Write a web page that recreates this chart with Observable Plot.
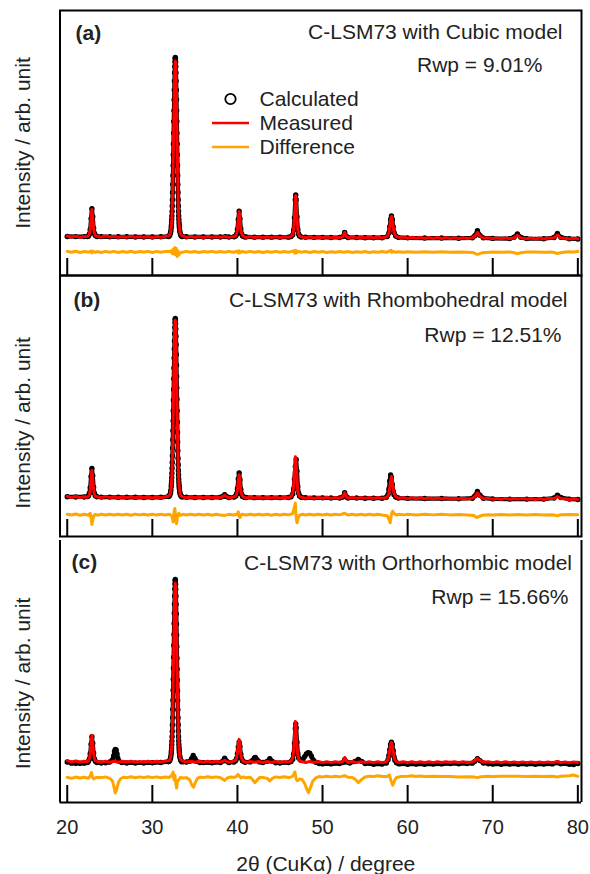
<!DOCTYPE html>
<html><head><meta charset="utf-8">
<script src="https://cdn.jsdelivr.net/npm/d3@7"></script>
<script src="https://cdn.jsdelivr.net/npm/@observablehq/plot@0.6"></script>
<style>
body{margin:0;background:#fff;}
#chart{position:relative;width:590px;height:874px;font-family:"Liberation Sans",Arial,sans-serif;}
#chart svg{overflow:visible;}
#chart .panel{position:absolute;left:0;}
#legend{position:absolute;left:0;top:0;pointer-events:none;}
</style></head><body><div id="chart"></div>
<script>
// ---------- text ----------
const panelLabels = ["(a)", "(b)", "(c)"];
const panelTitles = ["C-LSM73 with Cubic model", "C-LSM73 with Rhombohedral model", "C-LSM73 with Orthorhombic model"];
const rwpTexts = ["Rwp = 9.01%", "Rwp = 12.51%", "Rwp = 15.66%"];
const legendLabels = ["Calculated", "Measured", "Difference"];
const yTitle = "Intensity / arb. unit";
const xTitle = "2\u03B8 (CuK\u03B1) / degree";
const xTicks = [20, 30, 40, 50, 60, 70, 80];

// ---------- panel (a) cubic: [2theta, intensity] ----------
const calcA = [[20,0.6],[21,0.5],[22,0.5],[22.4,0.6],[22.5,0.9],[22.6,1.8],[22.7,4.5],[22.8,10.5],[22.9,16],[23.0,11.5],[23.1,5.2],[23.2,2.2],[23.3,1.1],[23.5,0.6],[24,0.5],[25,0.4],[26,0.4],[27,0.4],[28,0.3],[29,0.3],[30,0.3],[31,0.4],
[31.9,0.6],[31.98,0.9],[32.06,1.4],[32.14,2.6],[32.18,3.8],[32.22,5.6],[32.24,6.8],[32.26,8.2],[32.28,10],[32.30,12],[32.32,14.5],[32.34,17.5],[32.36,21],[32.38,25],[32.40,29.5],[32.42,34.5],[32.44,40],[32.46,46],[32.48,52],[32.50,58],[32.52,64.5],[32.54,70.5],[32.56,76.5],[32.58,82],[32.60,87],[32.62,91.5],[32.64,95],[32.66,97.6],[32.68,99.4],[32.70,100],[32.72,99.4],[32.74,97.6],[32.76,95],[32.78,91.5],[32.80,87],[32.82,82],[32.84,76.5],[32.86,70.5],[32.88,64.5],[32.90,58],[32.92,52],[32.94,46],[32.96,40],[32.98,34.5],[33.00,29.5],[33.02,25],[33.04,21],[33.06,17.5],[33.08,14.5],[33.10,12],[33.12,10],[33.14,8.2],[33.16,6.8],[33.18,5.6],[33.22,3.8],[33.26,2.6],[33.34,1.4],[33.42,0.9],[33.50,0.6],
[34,0.4],[35,0.3],[36,0.3],[37,0.3],[38,0.3],[38.6,0.5],[39,0.3],[39.6,0.4],[39.8,0.9],[39.9,1.8],[40.0,4.5],[40.1,10],[40.2,14.6],[40.3,10.5],[40.4,4.8],[40.5,2],[40.6,0.9],[40.8,0.4],[41,0.3],[42,0.2],[43,0.2],[44,0.2],[45,0.2],[46,0.2],[46.3,0.5],[46.5,1.6],[46.6,4],[46.7,11],[46.8,21],[46.85,23.6],[46.9,21],[47.0,11.5],[47.1,4.5],[47.2,1.8],[47.3,0.8],[47.5,0.3],[48,0.2],[49,0.1],[50,0.1],[51,0],[52,0],[52.4,0.5],[52.6,2.8],[52.8,0.6],[53,0],[54,0],[55,-0.1],[56,-0.1],[57,-0.1],[57.6,0.5],[57.8,2.5],[57.9,6],[58.0,10],[58.1,12],[58.2,10],[58.3,6],[58.4,2.8],[58.6,0.8],[58.9,0.1],[60,-0.2],[62,-0.3],[64,-0.3],[66,-0.4],[67.6,-0.2],[67.9,1],[68.2,3.8],[68.5,1.2],[68.9,-0.2],[70,-0.5],[72,-0.6],[72.5,0.2],[72.9,2],[73.3,0.1],[74,-0.6],[76,-0.7],[77.2,0],[77.6,2.2],[78.0,0.1],[79,-0.7],[80,-0.8]];
const measA = [[20,0.8],[20.5,0.3],[21,0.7],[21.5,0.2],[22,0.6],[22.4,0.5],[22.5,1.1],[22.6,2],[22.7,4.8],[22.8,10.8],[22.9,15.6],[23.0,11],[23.1,5],[23.2,2.4],[23.3,1],[23.5,0.7],[24,0.2],[24.5,0.8],[25,0.3],[25.5,0.7],[26,0.1],[26.5,0.6],[27,0.2],[27.5,0.7],[28,0.1],[28.5,0.5],[29,0.2],[29.5,0.6],[30,0],[30.5,0.6],[31,0.1],[31.5,0.7],
[31.9,0.9],[32.06,1.6],[32.14,2.8],[32.22,5.4],[32.26,8],[32.30,12],[32.34,17.5],[32.38,25.5],[32.42,34],[32.46,46],[32.50,57],[32.54,70],[32.58,81],[32.62,90],[32.66,96],[32.70,98],[32.74,96.5],[32.78,91],[32.82,82],[32.86,70.5],[32.90,58],[32.94,46],[32.98,35],[33.02,25],[33.06,17.5],[33.10,12],[33.14,8.2],[33.18,5.6],[33.26,2.8],[33.34,1.6],[33.50,0.9],
[34,0.1],[34.5,0.6],[35,0.2],[35.5,0.5],[36,0],[36.5,0.6],[37,0.1],[37.5,0.5],[38,0.1],[38.6,0.6],[39,0.1],[39.5,0.5],[39.8,1],[39.9,2],[40.0,4.6],[40.1,10.2],[40.2,14.4],[40.3,10.3],[40.4,4.6],[40.5,2.1],[40.6,1],[40.8,0.5],[41,0],[41.5,0.5],[42,0],[42.5,0.4],[43,-0.1],[43.5,0.4],[44,0],[44.5,0.5],[45,-0.1],[45.5,0.4],[46,0.1],[46.3,0.6],[46.5,1.8],[46.6,4.3],[46.7,11.5],[46.8,21.5],[46.85,23.3],[46.9,20.5],[47.0,11],[47.1,4.3],[47.2,1.8],[47.3,0.9],[47.5,0.4],[48,-0.1],[48.5,0.4],[49,-0.2],[49.5,0.3],[50,-0.1],[50.5,0.4],[51,-0.2],[51.5,0.3],[52,-0.1],[52.4,0.5],[52.6,2.8],[52.8,0.7],[53,-0.1],[53.5,0.4],[54,-0.2],[54.5,0.3],[55,-0.2],[55.5,0.3],[56,-0.3],[56.5,0.3],[57,-0.2],[57.6,0.6],[57.8,2.6],[57.9,6.2],[58.0,10.2],[58.1,11.7],[58.2,9.8],[58.3,5.8],[58.4,2.7],[58.6,0.9],[58.9,0.1],[59.5,0.2],[60,-0.4],[60.5,0.1],[61,-0.4],[61.5,0.1],[62,-0.5],[62.5,0],[63,-0.5],[63.5,0],[64,-0.5],[64.5,0],[65,-0.6],[65.5,-0.1],[66,-0.6],[66.5,-0.1],[67,-0.5],[67.6,-0.2],[67.9,0.7],[68.2,2.8],[68.5,0.8],[68.9,-0.3],[69.5,-0.2],[70,-0.7],[70.5,-0.2],[71,-0.7],[71.5,-0.2],[72,-0.7],[72.5,-0.1],[72.9,1.2],[73.3,-0.2],[74,-0.7],[74.5,-0.3],[75,-0.8],[75.5,-0.3],[76,-0.8],[76.5,-0.3],[77.2,-0.2],[77.6,1.4],[78.0,-0.2],[78.5,-0.4],[79,-0.8],[79.5,-0.4],[80,-0.7]];
const diffA = [[20,0.3],[20.5,-0.2],[21,0.4],[21.5,-0.3],[22,0.2],[22.5,-0.1],[22.8,0.5],[22.9,-0.5],[23.0,0.4],[23.3,-0.2],[23.5,0.2],[24,-0.3],[24.5,0.3],[25,-0.2],[25.5,0.3],[26,-0.3],[26.5,0.2],[27,-0.2],[27.5,0.4],[28,-0.3],[28.5,0.2],[29,-0.1],[29.5,0.3],[30,-0.3],[30.5,0.3],[31,-0.2],[31.5,0.3],[32,0.2],[32.2,0.6],[32.35,-1],[32.45,1.5],[32.55,-1.2],[32.65,2.5],[32.72,-1.5],[32.8,2],[32.9,-2.5],[33.0,0.8],[33.1,-1.8],[33.25,-0.6],[33.5,-0.2],[34,0.3],[34.5,-0.2],[35,0.2],[35.5,-0.3],[36,0.2],[36.5,-0.1],[37,0.3],[37.5,-0.2],[38,0.2],[38.5,-0.2],[39,0.3],[39.5,-0.2],[40,0.4],[40.1,-0.5],[40.2,0.6],[40.3,-0.4],[40.5,0.2],[41,-0.2],[41.5,0.3],[42,-0.2],[42.5,0.2],[43,-0.3],[43.5,0.2],[44,-0.2],[44.5,0.3],[45,-0.2],[45.5,0.2],[46,-0.2],[46.6,0.6],[46.75,-0.7],[46.85,0.9],[46.95,-0.5],[47.2,0.3],[47.5,-0.2],[48,0.2],[48.5,-0.3],[49,0.2],[49.5,-0.2],[50,0.2],[50.5,-0.3],[51,0.1],[51.5,-0.2],[52,0.2],[52.5,-0.2],[53,0.2],[53.5,-0.3],[54,0.1],[54.5,-0.2],[55,0.2],[55.5,-0.3],[56,0.1],[56.5,-0.2],[57,0.2],[57.5,-0.2],[57.9,0.5],[58.05,0.9],[58.15,-0.3],[58.3,0.3],[58.6,-0.2],[59,0.1],[59.5,-0.2],[60,0.1],[61,-0.2],[62,0.1],[63,-0.2],[64,0.1],[65,-0.2],[66,0],[67,-0.2],[67.7,-0.3],[68.1,-1.3],[68.4,-1.1],[68.8,-0.4],[69.5,-0.2],[70,0],[71,-0.2],[72,0],[72.5,-0.4],[72.9,-1],[73.3,-0.4],[74,-0.1],[75,0],[76,-0.2],[77,-0.1],[77.3,-0.5],[77.6,-0.9],[78,-0.4],[78.5,-0.1],[79,0.1],[79.5,0],[80,0.2]];

// ---------- panel (b) rhombohedral ----------
const calcB = [[20,0.7],[21,0.6],[22,0.6],[22.4,0.8],[22.5,1.3],[22.6,2.6],[22.7,5.8],[22.8,12],[22.9,16.5],[23.0,12.5],[23.1,6],[23.2,2.6],[23.3,1.3],[23.5,0.7],[24,0.5],[25,0.5],[26,0.4],[27,0.4],[28,0.4],[29,0.3],[30,0.3],[31,0.4],
[31.9,0.8],[31.98,1.1],[32.06,1.7],[32.14,3],[32.18,4.4],[32.22,6.4],[32.24,7.8],[32.26,9.4],[32.28,11.4],[32.30,13.8],[32.32,16.6],[32.34,19.8],[32.36,23.5],[32.38,27.8],[32.40,32.5],[32.42,37.5],[32.44,43],[32.46,48.6],[32.48,54.5],[32.50,60.5],[32.52,66.5],[32.54,72.5],[32.56,78],[32.58,83],[32.60,87.5],[32.62,91.5],[32.64,95],[32.66,97.6],[32.68,99.4],[32.70,100],[32.72,99.2],[32.74,97.2],[32.76,94.2],[32.78,90.2],[32.80,85.4],[32.82,80],[32.84,74],[32.86,67.8],[32.88,61.4],[32.90,55],[32.92,48.6],[32.94,42.4],[32.96,36.6],[32.98,31.2],[33.00,26.4],[33.02,22.2],[33.04,18.5],[33.06,15.4],[33.08,12.8],[33.10,10.6],[33.12,8.8],[33.14,7.3],[33.16,6.1],[33.18,5.1],[33.22,3.5],[33.26,2.4],[33.34,1.4],[33.42,0.9],[33.50,0.6],
[34,0.4],[35,0.3],[36,0.3],[37,0.3],[38,0.4],[38.3,0.9],[38.5,1.9],[38.7,0.8],[39,0.3],[39.6,0.5],[39.8,1.1],[39.9,2.2],[40.0,5.2],[40.1,10.6],[40.2,14],[40.3,10.2],[40.4,4.8],[40.5,2],[40.6,0.9],[40.8,0.4],[41,0.3],[42,0.2],[43,0.2],[44,0.2],[45,0.2],[46,0.3],[46.3,0.7],[46.5,2.2],[46.6,5],[46.7,10.5],[46.8,17.5],[46.9,21.5],[47.0,15],[47.1,6.5],[47.2,2.6],[47.3,1.1],[47.5,0.4],[48,0.2],[49,0.1],[50,0.1],[51,0],[52,0],[52.4,0.6],[52.6,3],[52.8,0.7],[53,0],[54,0],[55,-0.1],[56,-0.1],[57,-0.1],[57.5,0.4],[57.7,2],[57.8,5],[57.9,9.5],[58.0,12.8],[58.1,11.5],[58.2,7.5],[58.3,3.8],[58.4,1.8],[58.6,0.6],[58.9,0],[60,-0.2],[62,-0.3],[64,-0.3],[66,-0.4],[67.6,-0.1],[67.9,1.2],[68.2,3.6],[68.5,1.5],[68.9,-0.1],[70,-0.5],[72,-0.6],[74,-0.6],[76,-0.6],[77.2,0],[77.6,1.5],[78.0,0.3],[79,-0.6],[80,-0.8]];
const measB = [[20,0.9],[20.5,0.3],[21,0.8],[21.5,0.2],[22,0.7],[22.4,0.6],[22.5,1],[22.6,1.9],[22.7,4.5],[22.8,10.5],[22.9,15.3],[23.0,10.8],[23.1,4.6],[23.2,2],[23.3,1],[23.5,0.7],[24,0.2],[24.5,0.8],[25,0.2],[25.5,0.7],[26,0.1],[26.5,0.6],[27,0.2],[27.5,0.7],[28,0.1],[28.5,0.6],[29,0.1],[29.5,0.6],[30,0],[30.5,0.6],[31,0.1],[31.5,0.7],
[31.9,1],[32.06,1.8],[32.14,3],[32.22,6],[32.26,9],[32.30,13],[32.34,19],[32.38,27],[32.42,36],[32.46,47],[32.50,60],[32.54,73],[32.58,84],[32.62,93],[32.66,98.5],[32.70,99],[32.74,96],[32.78,88],[32.82,78],[32.86,66],[32.90,54],[32.94,42],[32.98,31],[33.02,22],[33.06,15.5],[33.10,10.5],[33.14,7.5],[33.18,5.2],[33.26,2.4],[33.34,1.4],[33.50,0.8],
[34,0.1],[34.5,0.6],[35,0.2],[35.5,0.6],[36,0.1],[36.5,0.6],[37,0.1],[37.5,0.5],[38,0.2],[38.3,0.9],[38.5,1.6],[38.7,0.8],[39,0.1],[39.5,0.6],[39.8,1],[39.9,2],[40.0,4.6],[40.1,9.8],[40.2,13],[40.3,9.4],[40.4,4.2],[40.5,1.9],[40.6,0.9],[40.8,0.5],[41,0],[41.5,0.5],[42,0],[42.5,0.5],[43,-0.1],[43.5,0.4],[44,0],[44.5,0.5],[45,-0.1],[45.5,0.4],[46,0.1],[46.3,0.8],[46.5,2.8],[46.6,7],[46.7,15.5],[46.8,23],[46.9,19.5],[47.0,10.5],[47.1,4],[47.2,1.7],[47.3,0.9],[47.5,0.4],[48,-0.1],[48.5,0.4],[49,-0.2],[49.5,0.3],[50,-0.1],[50.5,0.4],[51,-0.2],[51.5,0.3],[52,-0.1],[52.4,0.7],[52.6,3],[52.8,0.9],[53,-0.1],[53.5,0.4],[54,-0.2],[54.5,0.3],[55,-0.2],[55.5,0.3],[56,-0.3],[56.5,0.3],[57,-0.2],[57.5,0.3],[57.7,1.2],[57.8,3],[57.9,6],[58.0,9.5],[58.1,12],[58.2,9.8],[58.3,5.5],[58.4,2.4],[58.6,0.8],[58.9,0],[59.5,0.2],[60,-0.4],[60.5,0.1],[61,-0.4],[61.5,0.1],[62,-0.4],[62.5,0],[63,-0.5],[63.5,0],[64,-0.5],[64.5,0],[65,-0.5],[65.5,-0.1],[66,-0.6],[66.5,-0.1],[67,-0.5],[67.6,-0.2],[67.9,0.8],[68.2,2.8],[68.5,0.9],[68.9,-0.3],[69.5,-0.2],[70,-0.7],[70.5,-0.2],[71,-0.7],[71.5,-0.2],[72,-0.7],[72.5,-0.3],[73,-0.6],[73.5,-0.2],[74,-0.7],[74.5,-0.3],[75,-0.8],[75.5,-0.3],[76,-0.8],[76.5,-0.3],[77.2,-0.3],[77.6,0.8],[78,-0.3],[78.5,-0.4],[79,-0.8],[79.5,-0.4],[80,-0.7]];
const diffB = [[20,0.3],[20.5,-0.2],[21,0.4],[21.5,-0.3],[22,0.2],[22.5,-0.3],[22.7,0.8],[22.8,-1.5],[22.9,-5.5],[23.0,-3],[23.1,-0.8],[23.3,0.2],[23.6,-0.3],[24,0.3],[24.5,-0.2],[25,0.3],[25.5,-0.2],[26,0.3],[26.5,-0.2],[27,0.2],[27.5,-0.3],[28,0.3],[28.5,-0.1],[29,0.3],[29.5,-0.2],[30,0.2],[30.5,-0.2],[31,0.3],[31.5,-0.2],[32,0.3],[32.3,-0.8],[32.45,-4],[32.55,1.5],[32.65,3.5],[32.75,-2],[32.85,-5],[32.95,-1.5],[33.1,0.8],[33.3,-0.4],[33.6,0.2],[34,-0.2],[34.5,0.3],[35,-0.2],[35.5,0.3],[36,-0.2],[36.5,0.2],[37,-0.3],[37.5,0.2],[38,-0.2],[38.5,-0.4],[39,0.2],[39.5,-0.2],[40,0.3],[40.1,1.6],[40.2,-1],[40.3,-1.6],[40.5,0.2],[41,-0.2],[41.5,0.3],[42,-0.2],[42.5,0.3],[43,-0.2],[43.5,0.2],[44,-0.3],[44.5,0.2],[45,-0.2],[45.5,0.3],[46,-0.1],[46.5,0.6],[46.7,4.5],[46.8,6.5],[46.9,-1.5],[47.0,-4.5],[47.1,-2.5],[47.3,-0.3],[47.6,0.2],[48,-0.2],[48.5,0.2],[49,-0.2],[49.5,0.3],[50,-0.2],[50.5,0.2],[51,-0.2],[51.5,0.2],[52,-0.1],[52.6,0.8],[53,-0.2],[53.5,0.2],[54,-0.2],[54.5,0.2],[55,-0.2],[55.5,0.2],[56,-0.2],[56.5,0.2],[57,-0.2],[57.6,-0.6],[57.8,-2.5],[57.95,-4.5],[58.1,0.5],[58.25,2],[58.4,0.6],[58.7,-0.2],[59,0.2],[59.5,-0.1],[60,0.2],[61,-0.2],[62,0.2],[63,-0.1],[64,0.2],[65,-0.1],[66,0.1],[67,-0.2],[67.8,-0.5],[68.1,-1.6],[68.4,-1],[68.8,-0.3],[69.5,0],[70,-0.1],[71,0.1],[72,-0.1],[73,0.1],[74,-0.1],[75,0.1],[76,-0.1],[77,0],[77.6,-0.6],[78,0],[79,0.1],[80,0]];

// ---------- panel (c) orthorhombic ----------
const calcC = [[20,0.2],[20.5,-0.4],[21,-0.5],[21.5,-0.5],[22,-0.4],[22.4,0],[22.5,0.6],[22.6,1.8],[22.7,4.8],[22.8,10],[22.9,14],[23.0,10.5],[23.1,5],[23.2,1.8],[23.3,0.6],[23.5,0],[24,-0.3],[24.5,-0.2],[25,0.2],[25.3,1.4],[25.45,3.6],[25.55,6],[25.65,7.1],[25.75,6.8],[25.85,4.6],[25.95,2.2],[26.1,0.6],[26.4,-0.1],[27,-0.3],[28,-0.3],[29,-0.3],[30,-0.2],[31,0],
[31.9,0.4],[31.98,0.7],[32.06,1.2],[32.14,2.3],[32.18,3.5],[32.22,5.2],[32.24,6.4],[32.26,7.8],[32.28,9.6],[32.30,11.6],[32.32,14],[32.34,17],[32.36,20.5],[32.38,24.5],[32.40,29],[32.42,34],[32.44,39.5],[32.46,45.5],[32.48,51.5],[32.50,57.5],[32.52,64],[32.54,70],[32.56,76],[32.58,81.5],[32.60,86.5],[32.62,91],[32.64,94.8],[32.66,97.5],[32.68,99.4],[32.70,100],[32.72,99.3],[32.74,97.4],[32.76,94.6],[32.78,91],[32.80,86.4],[32.82,81.2],[32.84,75.6],[32.86,69.6],[32.88,63.4],[32.90,57],[32.92,51],[32.94,45],[32.96,39.2],[32.98,33.8],[33.00,28.8],[33.02,24.4],[33.04,20.6],[33.06,17.2],[33.08,14.2],[33.10,11.8],[33.12,9.8],[33.14,8],[33.16,6.6],[33.18,5.4],[33.22,3.6],[33.26,2.4],[33.34,1.2],[33.42,0.6],[33.50,0.3],
[34,0.2],[34.4,0.6],[34.6,2],[34.8,3.8],[35.0,2.2],[35.2,0.6],[35.6,0],[36,-0.1],[37,-0.2],[38,0],[38.3,0.8],[38.5,2.3],[38.7,0.8],[39,0],[39.6,0.2],[39.8,1],[39.9,2.2],[40.0,4.8],[40.1,8.5],[40.2,11],[40.3,8.8],[40.4,4.5],[40.5,2],[40.6,0.8],[40.9,0.1],[41.5,0.3],[41.8,1.2],[42.0,2.5],[42.1,2.7],[42.3,1.5],[42.6,0.3],[43,0],[43.5,0.6],[43.8,2],[44.1,0.6],[44.5,-0.2],[45,-0.3],[46,-0.1],[46.3,0.5],[46.5,1.8],[46.6,4.5],[46.7,10.5],[46.8,18.5],[46.85,21],[46.9,19],[47.0,11],[47.1,4.8],[47.2,2.4],[47.4,1.3],[47.7,1.8],[47.9,3.2],[48.1,4.6],[48.3,5.3],[48.5,5],[48.7,3.4],[48.9,1.4],[49.2,0.1],[49.6,-0.6],[50,-0.8],[51,-0.8],[52,-0.6],[52.4,0],[52.6,1.5],[52.8,0.2],[53.2,-0.3],[53.8,0.5],[54.2,1.6],[54.6,0.6],[55,-0.6],[56,-1],[57,-0.9],[57.5,-0.3],[57.7,1.4],[57.8,3.8],[57.9,7],[58.0,9.8],[58.1,11],[58.2,9.8],[58.3,6.5],[58.4,3.2],[58.5,1.2],[58.7,-0.2],[59,-0.8],[60,-1],[61,-0.9],[62,-1],[63,-0.9],[64,-0.8],[65,-0.6],[66,-0.7],[67,-0.6],[67.6,-0.4],[67.9,0.6],[68.2,2],[68.5,1],[68.9,-0.3],[69.5,-0.7],[70,-0.9],[71,-1],[72,-0.9],[73,-1],[74,-0.9],[75,-1],[76,-0.9],[77,-0.8],[77.6,-0.2],[78,-0.7],[79,-1],[79.5,-1.1],[80,-0.6]];
const measC = [[20,0.9],[20.5,0.3],[21,0.8],[21.5,0.2],[22,0.6],[22.4,0.5],[22.5,1],[22.6,2],[22.7,4.8],[22.8,10.5],[22.9,14.8],[23.0,10.5],[23.1,4.6],[23.2,2],[23.3,1],[23.5,0.6],[24,0.1],[24.5,0.7],[25,0.1],[25.5,0.6],[26,0.1],[26.5,0.6],[27,0.2],[27.5,0.7],[28,0.1],[28.5,0.5],[29,0.2],[29.5,0.6],[30,0.1],[30.5,0.6],[31,0.2],[31.5,0.7],
[31.9,0.9],[32.06,1.5],[32.14,2.6],[32.22,5.4],[32.26,8],[32.30,12],[32.34,17.5],[32.38,25],[32.42,35],[32.46,46],[32.50,58],[32.54,71],[32.58,82],[32.62,91],[32.66,96.5],[32.70,98],[32.74,95.5],[32.78,89.5],[32.82,80],[32.86,68.5],[32.90,56],[32.94,44],[32.98,33],[33.02,24],[33.06,17],[33.10,11.5],[33.14,8],[33.18,5.4],[33.26,2.6],[33.34,1.5],[33.50,0.9],
[34,0.2],[34.5,0.6],[35,0.1],[35.5,0.6],[36,0.1],[36.5,0.6],[37,0.1],[37.5,0.6],[38,0.2],[38.3,0.7],[38.5,1.2],[38.7,0.6],[39,0.1],[39.5,0.6],[39.8,1.2],[39.9,2.6],[40.0,5.5],[40.1,10],[40.2,12.6],[40.3,9.5],[40.4,4.6],[40.5,2],[40.6,0.9],[40.8,0.5],[41,0],[41.5,0.5],[42,0.1],[42.5,0.5],[43,0],[43.5,0.5],[44,0],[44.5,0.5],[45,0],[45.5,0.5],[46,0.2],[46.3,0.8],[46.5,2.4],[46.6,6],[46.7,14],[46.8,22.4],[46.85,22],[46.9,17.5],[47.0,9.5],[47.1,4],[47.2,1.8],[47.3,0.9],[47.5,0.5],[48,0],[48.5,0.5],[49,0],[49.5,0.5],[50,-0.1],[50.5,0.4],[51,-0.1],[51.5,0.4],[52,0],[52.4,0.6],[52.6,2.7],[52.8,0.8],[53,0],[53.5,0.5],[54,-0.1],[54.5,0.4],[55,-0.1],[55.5,0.4],[56,-0.1],[56.5,0.4],[57,-0.1],[57.5,0.4],[57.7,1.6],[57.8,3.8],[57.9,7],[58.0,10],[58.1,11],[58.2,9.5],[58.3,6],[58.4,3],[58.5,1.4],[58.7,0.4],[59,0],[59.5,0.4],[60,-0.1],[60.5,0.4],[61,-0.1],[61.5,0.4],[62,-0.1],[62.5,0.4],[63,-0.1],[63.5,0.4],[64,0],[64.5,0.4],[65,0],[65.5,0.4],[66,-0.1],[66.5,0.4],[67,0],[67.6,0.2],[67.9,1],[68.2,2.2],[68.5,1.1],[68.9,0.1],[69.5,0.4],[70,-0.1],[70.5,0.4],[71,-0.1],[71.5,0.4],[72,-0.1],[72.5,0.3],[73,-0.2],[73.5,0.3],[74,-0.1],[74.5,0.3],[75,-0.2],[75.5,0.3],[76,-0.1],[76.5,0.3],[77,-0.1],[77.6,0.5],[78,-0.1],[78.5,0.3],[79,-0.1],[79.5,0.3],[80,0]];
const diffC = [[20,0.4],[20.5,-0.2],[21,0.5],[21.5,0],[22,0.4],[22.5,-0.1],[22.7,1.2],[22.85,3],[22.95,0.5],[23.1,-0.5],[23.4,0.3],[24,0.2],[24.5,0.6],[25,-0.2],[25.3,-1.5],[25.5,-5],[25.65,-8.2],[25.8,-6.5],[26,-2.5],[26.3,-0.3],[26.6,0.4],[27,0.2],[27.5,0.7],[28,0.1],[28.5,0.6],[29,0.2],[29.5,0.7],[30,0.2],[30.5,0.6],[31,0.1],[31.5,0.5],[32,0.3],[32.3,1.5],[32.45,3.3],[32.55,-1],[32.65,1.5],[32.75,-2.5],[32.85,-5.5],[32.95,-2],[33.1,-1],[33.3,0.3],[33.6,0],[34,0.2],[34.4,-1],[34.65,-4],[34.85,-5],[35.05,-2.5],[35.3,-0.2],[35.6,0.5],[36,0.2],[36.5,0.7],[37,0.3],[37.5,0.6],[38,0.1],[38.5,-1.3],[38.8,0],[39.2,0.5],[39.6,0.3],[39.9,0.8],[40.05,1.9],[40.2,1.3],[40.4,0],[40.7,0.6],[41,0.1],[41.5,0.4],[41.8,-1],[42.05,-2.6],[42.3,-1.2],[42.6,0.2],[43,0.3],[43.5,-0.2],[43.8,-1.6],[44.1,-0.2],[44.5,0.6],[45,0.3],[45.5,0.7],[46,0.3],[46.4,0.6],[46.6,1.8],[46.75,3.3],[46.9,-0.6],[47.05,-1.5],[47.3,-0.6],[47.6,-0.8],[47.9,-3],[48.1,-5.5],[48.35,-8],[48.6,-5],[48.85,-1.8],[49.2,0],[49.6,0.8],[50,0.6],[50.5,1],[51,0.6],[51.5,0.9],[52,0.6],[52.6,1.3],[53,0.4],[53.5,0.3],[53.9,-1],[54.2,-2.5],[54.6,-0.8],[55,0.5],[55.5,1],[56,0.8],[56.5,1.2],[57,0.8],[57.6,0.8],[57.85,1.6],[58.05,-1.5],[58.25,-4],[58.45,-1.5],[58.7,0.3],[59.2,0.8],[60,0.9],[60.5,1.2],[61,0.8],[61.5,1.1],[62,0.8],[63,1],[64,0.8],[65,0.8],[66,0.6],[67,0.7],[67.8,0.5],[68.2,0.2],[68.6,0.7],[69.5,0.9],[70,0.8],[71,1],[72,0.9],[73,1],[74,0.8],[75,1],[76,0.8],[77,0.9],[77.6,0.5],[78,0.9],[79,1.2],[79.5,1.6],[80,0.9]];

const series = [
  {calc: calcA, meas: measA, diff: diffA},
  {calc: calcB, meas: measB, diff: diffB},
  {calc: calcC, meas: measC, diff: diffC}
];

// ---------- layout / style ----------
const FONT = "'Liberation Sans', Arial, Helvetica, sans-serif";
const xDomain = [19.15, 80.43];
const colors = {calc: "#000000", meas: "#ff0000", diff: "#ffa500"};
const layout = [
  {top: 10,  height: 265, yDomain: [-21.1, 126.1], diffOffset: -8,   label: [15.5, 23], title: [-19, 22],  rwp: [-39, 55], ylabDy: 0,  frameTop: true},
  {top: 275, height: 261, yDomain: [-21.45, 124],  diffOffset: -9.3, label: [13.5, 25], title: [-14, 25],  rwp: [-20, 60], ylabDy: 17, frameTop: true},
  {top: 540, height: 262, yDomain: [-21.9, 121.3], diffOffset: -8.5, label: [11.5, 22], title: [-9.5, 23], rwp: [-13, 57], ylabDy: 12, frameTop: false}
];
const bottomExtra = 72;

const chart = document.getElementById("chart");

layout.forEach((L, i) => {
  const s = series[i];
  const last = i === layout.length - 1;
  const X = p => p[0], Y = p => p[1];
  const marks = [
    Plot.tickX(xTicks, {x: v => v, stroke: "black", strokeWidth: 2, insetTop: L.height - 17}),
    Plot.line(s.calc, {x: X, y: Y, stroke: colors.calc, strokeWidth: 4.2}),
    Plot.dot(s.calc, {x: X, y: Y, r: 2.1, stroke: colors.calc, strokeWidth: 1.2, fill: "none"}),
    Plot.line(s.meas, {x: X, y: Y, stroke: colors.meas, strokeWidth: 3}),
    Plot.line(s.diff, {x: X, y: p => p[1] + L.diffOffset, stroke: colors.diff, strokeWidth: 3})
  ];
  if (L.frameTop) {
    marks.push(Plot.frame({stroke: "black", strokeWidth: 2}));
  } else {
    marks.push(Plot.ruleX(xDomain, {stroke: "black", strokeWidth: 2}));
    marks.push(Plot.ruleY([L.yDomain[0]], {stroke: "black", strokeWidth: 2}));
  }
  marks.push(
    Plot.text([panelLabels[i]], {text: d => d, frameAnchor: "top-left", dx: L.label[0], dy: L.label[1], textAnchor: "start", lineAnchor: "middle", fontWeight: "bold", fontSize: 21, fill: "#222"}),
    Plot.text([panelTitles[i]], {text: d => d, frameAnchor: "top-right", dx: L.title[0], dy: L.title[1], textAnchor: "end", lineAnchor: "middle", fontSize: 21, fill: "#222"}),
    Plot.text([rwpTexts[i]], {text: d => d, frameAnchor: "top-right", dx: L.rwp[0], dy: L.rwp[1], textAnchor: "end", lineAnchor: "middle", fontSize: 21, fill: "#222"}),
    Plot.text([yTitle], {text: d => d, frameAnchor: "left", rotate: -90, dx: -36.5, dy: L.ylabDy, textAnchor: "middle", lineAnchor: "middle", fontSize: 21, fill: "#222"})
  );
  if (last) {
    marks.push(
      Plot.axisX(xTicks, {tickSize: 0, tickPadding: 17, fontSize: 20, label: null, fill: "#222"}),
      Plot.text([xTitle], {text: d => d, frameAnchor: "bottom", dx: 5, dy: 62, textAnchor: "middle", lineAnchor: "middle", fontSize: 21, fill: "#222"})
    );
  }
  const plot = Plot.plot({
    width: 590,
    height: L.height + (last ? bottomExtra : 0),
    marginTop: 0,
    marginBottom: last ? bottomExtra : 0,
    marginLeft: 59.5,
    marginRight: 9,
    x: last ? {domain: xDomain} : {domain: xDomain, axis: null},
    y: {domain: L.yDomain, axis: null},
    style: {fontFamily: FONT, fontSize: "21px", background: "transparent", overflow: "visible"},
    marks
  });
  plot.classList.add("panel");
  plot.style.top = L.top + "px";
  plot.style.position = "absolute";
  chart.appendChild(plot);
});

// ---------- legend (panel a) ----------
const legendPos = {x0: 212, x1: 249, cx: 230.5, tx: 259.5, y: [99, 123, 147]};
const ns = "http://www.w3.org/2000/svg";
const lg = document.createElementNS(ns, "svg");
lg.setAttribute("id", "legend");
lg.setAttribute("width", 590);
lg.setAttribute("height", 874);
lg.style.fontFamily = FONT;
lg.style.fontSize = "21px";
legendLabels.forEach((lab, k) => {
  const y = legendPos.y[k];
  if (k === 0) {
    const c = document.createElementNS(ns, "circle");
    c.setAttribute("cx", legendPos.cx); c.setAttribute("cy", y); c.setAttribute("r", 5.2);
    c.setAttribute("fill", "none"); c.setAttribute("stroke", colors.calc); c.setAttribute("stroke-width", 1.8);
    lg.appendChild(c);
  } else {
    const l = document.createElementNS(ns, "line");
    l.setAttribute("x1", legendPos.x0); l.setAttribute("x2", legendPos.x1);
    l.setAttribute("y1", y); l.setAttribute("y2", y);
    l.setAttribute("stroke", k === 1 ? colors.meas : colors.diff); l.setAttribute("stroke-width", 2.6);
    lg.appendChild(l);
  }
  const t = document.createElementNS(ns, "text");
  t.setAttribute("x", legendPos.tx); t.setAttribute("y", y); t.setAttribute("dy", "0.35em");
  t.setAttribute("fill", "#222");
  t.textContent = lab;
  lg.appendChild(t);
});
chart.appendChild(lg);
</script>
</body></html>
